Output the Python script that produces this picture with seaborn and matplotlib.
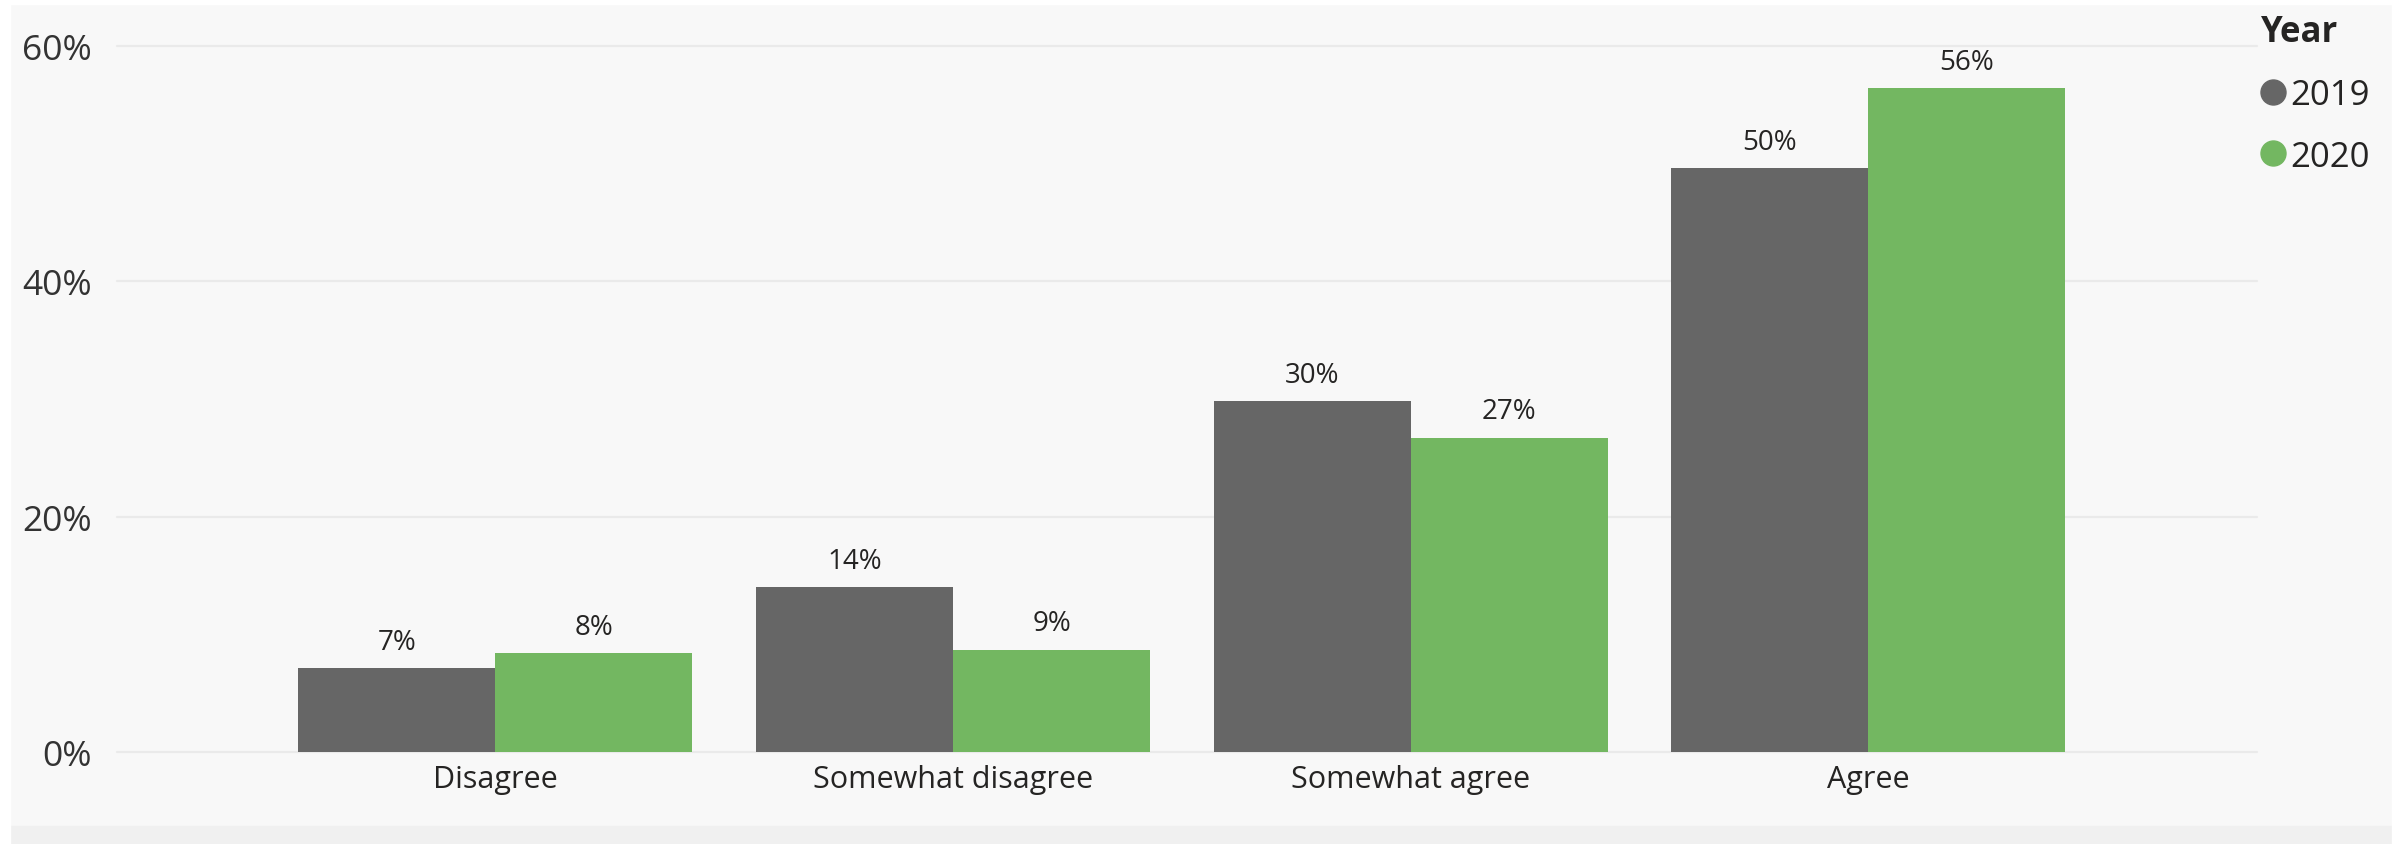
import numpy as np
import pandas as pd
import matplotlib
matplotlib.use('Agg')
import matplotlib.pyplot as plt
from matplotlib.patches import Rectangle
from matplotlib.lines import Line2D
from matplotlib.ticker import FuncFormatter
import seaborn as sns

# data (share of respondents, %)
responses = ['Disagree', 'Somewhat disagree', 'Somewhat agree', 'Agree']
years = ['2019', '2020']
share_2019 = [7.1, 14.0, 29.8, 49.6]
share_2020 = [8.4, 8.7, 26.7, 56.4]
y_ticks = [0, 20, 40, 60]

colors = {'2019': '#666666', '2020': '#73B761'}

df = pd.DataFrame({
    'Response': responses * 2,
    'Year': ['2019'] * len(responses) + ['2020'] * len(responses),
    'Share': share_2019 + share_2020,
})

sns.set_theme(style='white')
plt.rcParams['font.family'] = ['Open Sans', 'DejaVu Sans']

W, H = 2405, 845
fig = plt.figure(figsize=(W / 100, H / 100), dpi=100)
fig.patch.set_facecolor('#F8F8F8')

# panel frame: white edges, slightly darker strip at the bottom
def px_rect(x0, y0, x1, y1, color):
    fig.patches.append(Rectangle((x0 / W, 1 - y1 / H), (x1 - x0) / W, (y1 - y0) / H,
                                 transform=fig.transFigure, color=color, zorder=0))

px_rect(0, 827, W, H, '#F0F0F0')
px_rect(0, 0, W, 5, 'white')
px_rect(0, 0, 10, H, 'white')
px_rect(2392, 0, W, H, 'white')

ax = fig.add_axes([117 / W, 1 - 753 / H, (2257 - 117) / W, (753 - 47) / H])
ax.patch.set_visible(False)

sns.barplot(data=df, x='Response', y='Share', hue='Year', order=responses,
            hue_order=years, palette=colors, saturation=1, width=0.861,
            linewidth=0, legend=False, ax=ax)

for cont in ax.containers:
    vals = [b.get_height() for b in cont]
    ax.bar_label(cont, labels=[f'{v:.0f}%' for v in vals], padding=9,
                 fontsize=20, color='#252423')

ax.set_ylim(0, 60)
ax.set_xlim(-0.8265, 3.849)
ax.set_yticks(y_ticks)
ax.yaxis.set_major_formatter(FuncFormatter(lambda v, p: f'{v:.0f}%'))
ax.grid(axis='y', color='#EAEAEA', linewidth=1.6)
ax.set_axisbelow(True)
for g in ax.get_ygridlines():
    g.set_clip_on(False)
for s in ax.spines.values():
    s.set_visible(False)
ax.tick_params(axis='y', length=0, pad=18, labelsize=25.5, labelcolor='#333333')
ax.tick_params(axis='x', length=0, pad=9, labelsize=22, labelcolor='#252423')
ax.set_xlabel('')
ax.set_ylabel('')

handles = [Line2D([], [], marker='o', ls='', color=colors[y], markersize=18) for y in years]
leg = fig.legend(handles, years, loc='upper left', bbox_to_anchor=(2261 / W, 1 - 15 / H),
                 frameon=False, title='Year', alignment='left', fontsize=25,
                 title_fontproperties={'weight': 'bold', 'size': 25},
                 handlelength=0.7, handletextpad=0.15, labelspacing=0.8,
                 borderpad=0, borderaxespad=0)
for t in leg.get_texts():
    t.set_color('#252423')
leg.get_title().set_color('#252423')

fig.savefig('out.png', dpi=100, facecolor=fig.get_facecolor())
